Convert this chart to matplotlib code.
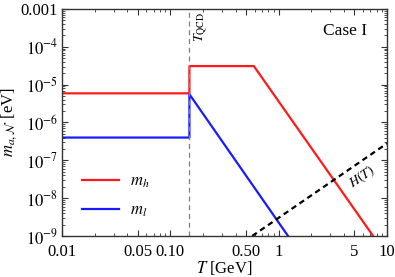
# Mass of axion-like states vs temperature, Case I

import matplotlib.pyplot as plt
import matplotlib.ticker as mticker

plt.rcParams['font.family'] = ['Liberation Serif', 'DejaVu Serif']
plt.rcParams['mathtext.fontset'] = 'stix'

# piecewise lines (T in GeV, m in eV)
T_h = [0.01, 0.15, 0.15, 0.59, 7.45]
m_h = [5.9e-6, 5.9e-6, 3.1e-5, 3.1e-5, 1e-9]
T_l = [0.01, 0.15, 0.15, 1.22]
m_l = [4.0e-7, 4.0e-7, 5.6e-6, 1e-9]
T_H = [0.57, 10]
m_H = [1e-9, 2.8e-7]
T_qcd = 0.15

xticks = [0.01, 0.05, 0.10, 0.50, 1, 5, 10]
xticklabels = ["0.01", "0.05", "0.10", "0.50", "1", "5", "10"]
yticks = [1e-9, 1e-8, 1e-7, 1e-6, 1e-5, 1e-4, 1e-3]
yticklabels = [r"$10^{-9}$", r"$10^{-8}$", r"$10^{-7}$", r"$10^{-6}$",
               r"$10^{-5}$", r"$10^{-4}$", "0.001"]

fig = plt.figure(figsize=(3.95, 2.77), dpi=100)
ax = fig.add_axes([62/395, 1 - 236/277, 325/395, 227/277])

ax.plot(T_h, m_h, color="#ff1a1a", linewidth=1.6, label=r"$m_h$")
ax.plot(T_l, m_l, color="#1a1aff", linewidth=1.6, label=r"$m_l$")
ax.plot(T_H, m_H, color="black", linewidth=1.6, linestyle=(0, (2.5, 1.8)))
ax.axvline(T_qcd, color="gray", linewidth=0.9, linestyle=(0, (4, 3)))

ax.set_xscale("log")
ax.set_yscale("log")
ax.set_xlim(0.01, 10)
ax.set_ylim(1e-9, 1e-3)
ax.set_xticks(xticks)
ax.set_xticklabels(xticklabels)
ax.set_yticks(yticks)
ax.set_yticklabels(yticklabels)
ax.xaxis.set_minor_locator(mticker.LogLocator(subs=range(2, 10)))
ax.yaxis.set_minor_locator(mticker.LogLocator(subs=range(2, 10)))
ax.xaxis.set_minor_formatter(mticker.NullFormatter())
ax.yaxis.set_minor_formatter(mticker.NullFormatter())
ax.tick_params(which="both", direction="in", top=True, right=True,
               labelsize=12, color="#333333")
ax.tick_params(which="major", length=4, width=0.8)
ax.tick_params(which="minor", length=2, width=0.6)
ax.tick_params(axis="x", pad=6)
ax.tick_params(axis="y", pad=3)
for s in ax.spines.values():
    s.set_color("#333333")
    s.set_linewidth(1.0)

ax.set_xlabel(r"$T$ [GeV]", fontsize=12, labelpad=-1)
ax.set_ylabel(r"$m_{a,\mathcal{N}}$ [eV]", fontsize=12, labelpad=1)

ax.text(0.94, 0.94, "Case I", transform=ax.transAxes, ha="right", va="top",
        fontsize=12.5)
ax.text(0.158, 3.4e-4, r"$T_{\mathrm{QCD}}$", rotation=90, ha="left",
        va="center", fontsize=10)
ax.text(4.1, 3.6e-8, r"$H(T)$", rotation=34, rotation_mode="anchor",
        ha="left", va="top", fontsize=10)

ax.legend(loc="center left", bbox_to_anchor=(0.015, 0.175), frameon=False,
          fontsize=12, handlelength=2.2, labelspacing=0.75, handletextpad=0.7)

fig.savefig("out.png", dpi=100)
